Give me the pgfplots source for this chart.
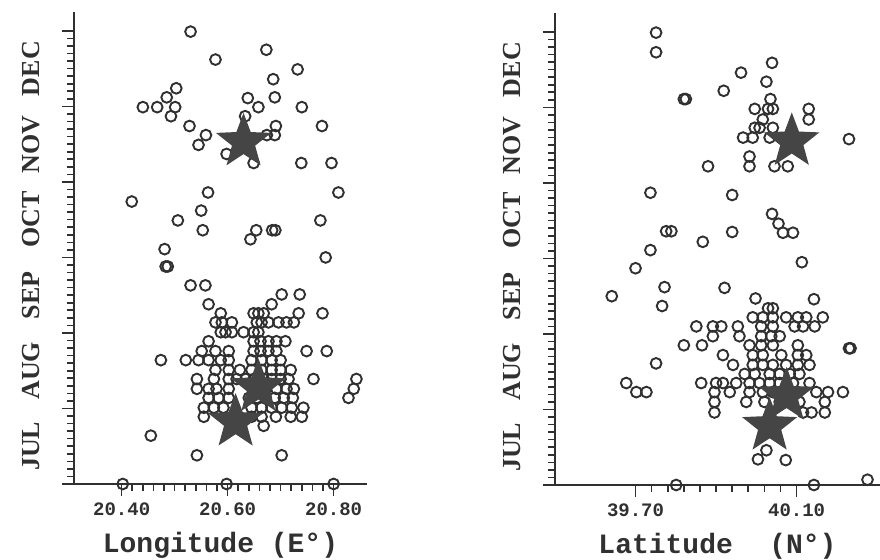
\documentclass[border=0pt]{standalone}
\usepackage{fontspec}
\setmainfont{Liberation Serif}
\newfontfamily\monofont{Liberation Mono}
\usepackage{pgfplots}
\usepackage{pgfplotstable}
\pgfplotsset{compat=1.18}
\definecolor{ink}{HTML}{303030}
\definecolor{starc}{HTML}{454545}
\pgfdeclareplotmark{fstar}{%
 \pgfpathmoveto{\pgfpointpolar{90}{\pgfplotmarksize}}%
 \pgfpathlineto{\pgfpointpolar{126}{0.42\pgfplotmarksize}}%
 \pgfpathlineto{\pgfpointpolar{162}{\pgfplotmarksize}}%
 \pgfpathlineto{\pgfpointpolar{198}{0.42\pgfplotmarksize}}%
 \pgfpathlineto{\pgfpointpolar{234}{\pgfplotmarksize}}%
 \pgfpathlineto{\pgfpointpolar{270}{0.42\pgfplotmarksize}}%
 \pgfpathlineto{\pgfpointpolar{306}{\pgfplotmarksize}}%
 \pgfpathlineto{\pgfpointpolar{342}{0.42\pgfplotmarksize}}%
 \pgfpathlineto{\pgfpointpolar{18}{\pgfplotmarksize}}%
 \pgfpathlineto{\pgfpointpolar{54}{0.42\pgfplotmarksize}}%
 \pgfpathclose\pgfusepathqfill}

\pgfplotstableread[row sep=\\]{
x y\\
20.530 5.99\\ 20.577 5.62\\ 20.673 5.75\\ 20.732 5.49\\ 20.686 5.36\\
20.503 5.24\\ 20.485 5.12\\ 20.440 4.99\\ 20.467 4.99\\ 20.501 4.99\\
20.493 4.87\\ 20.638 5.11\\ 20.658 4.99\\ 20.689 5.12\\ 20.740 4.99\\
20.528 4.74\\ 20.559 4.62\\ 20.545 4.49\\ 20.633 4.87\\ 20.691 4.74\\
20.674 4.62\\ 20.689 4.62\\ 20.598 4.37\\ 20.649 4.25\\ 20.778 4.74\\
20.739 4.25\\ 20.796 4.25\\ 20.809 3.86\\ 20.563 3.86\\ 20.419 3.74\\
20.550 3.62\\ 20.506 3.49\\ 20.553 3.36\\ 20.654 3.36\\ 20.643 3.24\\
20.684 3.36\\ 20.690 3.36\\ 20.775 3.49\\ 20.481 3.11\\ 20.785 3.00\\
20.483 2.88\\ 20.487 2.88\\
20.530 2.63\\ 20.558 2.63\\ 20.702 2.51\\ 20.736 2.51\\ 20.564 2.38\\ 20.683 2.38\\
20.587 2.26\\ 20.649 2.26\\ 20.658 2.26\\ 20.668 2.26\\ 20.734 2.26\\ 20.779 2.26\\
20.577 2.14\\ 20.589 2.14\\ 20.608 2.14\\ 20.655 2.14\\ 20.664 2.14\\ 20.677 2.14\\ 20.696 2.14\\ 20.711 2.14\\ 20.725 2.14\\
20.587 2.01\\ 20.596 2.01\\ 20.608 2.01\\ 20.630 2.01\\ 20.649 2.01\\ 20.658 2.01\\
20.564 1.89\\ 20.649 1.89\\ 20.662 1.89\\ 20.677 1.89\\ 20.692 1.89\\ 20.709 1.89\\
20.551 1.76\\ 20.577 1.76\\ 20.602 1.76\\ 20.649 1.76\\ 20.662 1.76\\ 20.677 1.76\\ 20.692 1.76\\ 20.749 1.76\\ 20.787 1.76\\
20.474 1.64\\ 20.521 1.64\\ 20.545 1.64\\ 20.564 1.64\\ 20.587 1.64\\ 20.602 1.64\\ 20.645 1.64\\ 20.664 1.64\\ 20.683 1.64\\ 20.700 1.64\\
20.577 1.51\\ 20.602 1.51\\ 20.623 1.51\\ 20.645 1.51\\ 20.664 1.51\\ 20.683 1.51\\ 20.700 1.51\\ 20.719 1.51\\
20.542 1.39\\ 20.574 1.39\\ 20.602 1.39\\ 20.617 1.39\\ 20.634 1.39\\ 20.649 1.39\\ 20.668 1.39\\ 20.683 1.39\\ 20.700 1.39\\ 20.715 1.39\\ 20.762 1.39\\ 20.843 1.39\\
20.542 1.26\\ 20.564 1.26\\ 20.579 1.26\\ 20.602 1.26\\ 20.655 1.26\\ 20.672 1.26\\ 20.692 1.26\\ 20.711 1.26\\ 20.725 1.26\\ 20.838 1.26\\
20.564 1.14\\ 20.583 1.14\\ 20.602 1.14\\ 20.640 1.14\\ 20.655 1.14\\ 20.672 1.14\\ 20.689 1.14\\ 20.706 1.14\\ 20.723 1.14\\ 20.828 1.14\\
20.555 1.01\\ 20.574 1.01\\ 20.592 1.01\\ 20.645 1.01\\ 20.664 1.01\\ 20.683 1.01\\ 20.702 1.01\\ 20.721 1.01\\ 20.743 1.01\\
20.555 0.89\\ 20.645 0.89\\ 20.664 0.89\\ 20.691 0.89\\ 20.719 0.89\\ 20.740 0.89\\
20.668 0.77\\ 20.455 0.64\\ 20.542 0.38\\ 20.702 0.38\\
20.402 0.00\\ 20.598 0.00\\ 20.800 0.00\\
}\lonpts

\pgfplotstableread[row sep=\\]{
x y\\
20.630 4.53\\ 20.658 1.28\\ 20.615 0.82\\
}\lonstars

\pgfplotstableread[row sep=\\]{
x y\\
39.751 5.99\\ 39.751 5.73\\ 40.039 5.59\\ 39.962 5.46\\ 40.025 5.34\\ 39.919 5.22\\
39.820 5.11\\ 39.825 5.11\\ 40.035 5.11\\ 39.996 4.98\\ 40.029 4.98\\ 40.041 4.98\\
40.130 4.98\\ 40.130 4.84\\ 40.016 4.84\\ 39.996 4.73\\ 40.008 4.73\\ 40.041 4.73\\
39.967 4.60\\ 39.991 4.60\\ 40.033 4.60\\ 40.230 4.58\\ 39.983 4.35\\ 39.983 4.22\\
39.880 4.22\\ 40.045 4.22\\ 40.078 4.22\\ 39.737 3.87\\ 39.940 3.84\\ 40.039 3.59\\
40.055 3.46\\ 40.066 3.34\\ 40.091 3.34\\ 39.940 3.35\\ 39.776 3.36\\ 39.789 3.36\\
39.737 3.11\\ 39.867 3.22\\ 40.113 2.95\\ 39.700 2.87\\ 39.641 2.50\\ 39.772 2.62\\
39.766 2.37\\ 39.921 2.61\\ 39.998 2.47\\ 40.143 2.46\\ 40.029 2.34\\ 40.041 2.34\\
39.991 2.22\\ 40.016 2.22\\ 40.041 2.22\\ 40.074 2.22\\ 40.103 2.22\\ 40.124 2.22\\ 40.165 2.22\\
39.851 2.10\\ 39.892 2.10\\ 39.913 2.10\\ 39.954 2.10\\ 40.012 2.10\\ 40.041 2.10\\ 40.095 2.10\\ 40.116 2.10\\ 40.145 2.10\\
39.892 1.97\\ 39.958 1.97\\ 40.012 1.97\\ 40.037 1.97\\ 40.058 1.97\\
39.820 1.85\\ 39.865 1.85\\ 39.983 1.85\\ 40.012 1.85\\ 40.041 1.85\\ 40.103 1.85\\
40.230 1.81\\ 40.234 1.81\\
39.917 1.72\\ 39.991 1.72\\ 40.016 1.72\\ 40.062 1.72\\ 40.103 1.72\\ 40.124 1.72\\
39.751 1.61\\
39.942 1.59\\ 39.991 1.59\\ 40.016 1.59\\ 40.041 1.59\\ 40.074 1.59\\ 40.103 1.59\\ 40.132 1.59\\
39.971 1.47\\ 39.996 1.47\\ 40.033 1.47\\ 40.058 1.47\\ 40.083 1.47\\ 40.107 1.47\\
39.677 1.35\\ 39.863 1.35\\ 39.900 1.35\\ 39.917 1.35\\ 39.950 1.35\\ 39.983 1.35\\ 40.008 1.35\\ 40.033 1.35\\ 40.058 1.35\\ 40.091 1.35\\ 40.132 1.35\\
39.702 1.23\\ 39.727 1.23\\ 39.896 1.23\\ 39.934 1.23\\ 39.983 1.23\\ 40.016 1.23\\ 40.041 1.23\\ 40.074 1.23\\ 40.103 1.23\\ 40.149 1.23\\ 40.178 1.23\\ 40.215 1.23\\
39.896 1.10\\ 39.975 1.10\\ 40.020 1.10\\ 40.058 1.10\\ 40.107 1.10\\ 40.170 1.10\\
39.896 0.96\\ 40.116 0.96\\ 40.137 0.96\\ 40.170 0.96\\
40.004 0.34\\ 40.025 0.46\\ 40.073 0.33\\
39.801 0.00\\ 40.143 0.00\\ 40.276 0.07\\
}\latpts

\pgfplotstableread[row sep=\\]{
x y\\
40.088 4.55\\ 40.075 1.18\\ 40.033 0.78\\
}\latstars

\pgfplotsset{monthaxis/.style={
  scale only axis, height=236pt,
  axis lines*=left,
  axis line style={line width=1pt, ink},
  ymin=0, ymax=6.25, ytick={0,1,2,3,4,5,6}, yticklabels={},
  minor y tick num=9, minor x tick num=9,
  extra y ticks={0.5,1.5,2.5,3.5,4.5,5.5},
  extra y tick labels={JUL,AUG,SEP,OCT,NOV,DEC},
  extra y tick style={major tick length=0pt,
    yticklabel style={xshift=-17pt, rotate=90, anchor=south, inner sep=0pt,
      font=\fontsize{13}{13}\selectfont\bfseries, text=ink}},
  tick align=outside, major tick length=6pt, minor tick length=3.5pt,
  tick style={line width=0.8pt, ink},
  clip=false,
  xticklabel style={font=\monofont\fontsize{9.5}{10}\selectfont\bfseries, text=ink},
  xlabel style={font=\monofont\fontsize{14}{14}\selectfont\bfseries, text=ink, yshift=-1.5pt},
  circ/.style={only marks, mark=o, mark size=2.7pt, mark options={line width=0.95pt, draw=ink}},
  stars/.style={only marks, mark=fstar, mark size=14.5pt, mark options={fill=starc}},
}}

\begin{document}
\begin{tikzpicture}
\useasboundingbox (0,0) rectangle (440pt,280pt);
\begin{axis}[monthaxis, at={(37pt,38pt)}, anchor=south west, width=146.5pt,
  xmin=20.31, xmax=20.863, xtick={20.40,20.60,20.80}, xticklabels={20.40,20.60,20.80},
  xlabel={Longitude (E°)}]
\addplot[circ] table {\lonpts};
\addplot[stars] table {\lonstars};
\end{axis}
\begin{axis}[monthaxis, at={(277.5pt,37.5pt)}, anchor=south west, width=162.5pt,
  xmin=39.50, xmax=40.307, xtick={39.70,40.10}, xticklabels={39.70,40.10},
  xlabel={Latitude\hspace{1.3em}(N°)}]
\addplot[circ] table {\latpts};
\addplot[stars] table {\latstars};
\end{axis}
\end{tikzpicture}
\end{document}
